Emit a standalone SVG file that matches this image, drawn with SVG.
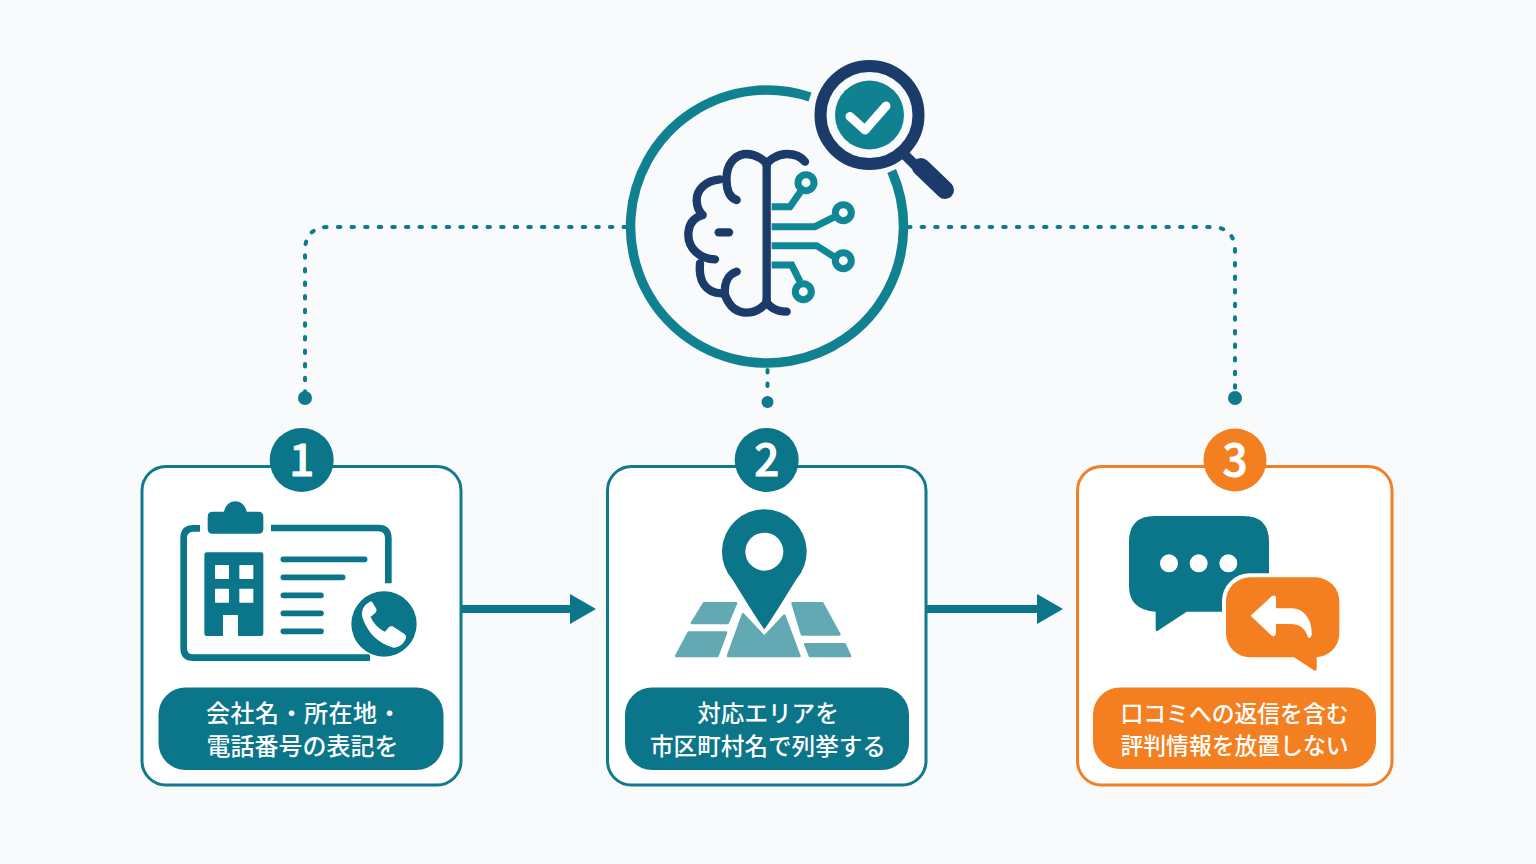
<svg xmlns="http://www.w3.org/2000/svg" width="1536" height="864" viewBox="0 0 1536 864">
<style>
.teal{fill:#0b7589}
.navyS{fill:none;stroke:#1b3b6b;stroke-width:25;stroke-linecap:round;stroke-linejoin:round}
.circ{fill:none;stroke:#0f8796;stroke-width:21;stroke-linejoin:miter}
.card{fill:#fff;stroke:#0f7a8c;stroke-width:3}
.cardO{fill:#fff;stroke:#f08028;stroke-width:3}
.bar{fill:none;stroke:#0b7589;stroke-width:17;stroke-linecap:round}
.map{fill:#63a9b3;stroke:#63a9b3;stroke-width:8;stroke-linejoin:round}
.dot{fill:none;stroke:#0f7a8c;stroke-width:4;stroke-linecap:round;stroke-dasharray:2.500 11.100}
.lbl{font-family:"Noto Sans CJK JP","Noto Sans",sans-serif;font-weight:500;fill:#fff;text-anchor:middle}
.num{font-family:"Noto Sans CJK JP","Noto Sans",sans-serif;font-weight:500;font-size:44px;fill:#fff;stroke:#fff;stroke-width:.9;text-anchor:middle}
.arrow{fill:none;stroke:#0b7589;stroke-width:8;marker-end:url(#head)}
</style>
<defs>
<marker id="head" markerUnits="userSpaceOnUse" markerWidth="28" markerHeight="34" refX="3" refY="17" orient="auto"><path d="M0 2L26 17L0 32Z" fill="#0b7589"/></marker>
</defs>
<rect width="1536" height="864" fill="#f8fafb"/>

<g id="connectors">
<path class="dot" d="M908 227H1211Q1235 227 1235 251V392"/>
<path class="dot" d="M626 227H329Q305 227 305 251V392"/>
<path class="dot" d="M767.500 370V396"/>
<circle cx="305" cy="398" r="7" fill="#0f7a8c"/>
<circle cx="1235" cy="398" r="7" fill="#0f7a8c"/>
<circle cx="767.500" cy="402" r="6" fill="#0f7a8c"/>
<path class="arrow" d="M462 609H573"/>
<path class="arrow" d="M927 609H1040"/>
</g>

<g id="hub">
<path d="M810 97A136.500 136.500 0 1 0 891.700 171" fill="none" stroke="#0f8190" stroke-width="9.500"/>
<g transform="translate(620 50) scale(.33333)">
<path class="navyS" d="M440 345V750"/>
<path class="navyS" d="M350 450C320 440 318 405 320 375C325 330 355 312 380 312C410 312 440 335 440 345C440 335 470 312 500 312C525 312 545 322 555 335"/>
<path class="navyS" d="M350 665C320 675 312 705 315 735C330 775 355 788 380 788C410 788 440 765 440 750C440 765 465 785 500 785"/>
<path class="navyS" d="M300 388C255 392 230 420 230 450C230 470 238 485 248 495C215 505 205 530 205 555C205 595 240 628 285 628"/>
<path class="navyS" d="M240 640C235 690 255 730 305 730"/>
<path class="navyS" d="M296 547H327"/>
<path class="circ" d="M455 470H510L545 420"/>
<circle class="circ" cx="558" cy="398" r="24"/>
<path class="circ" d="M455 530H585L645 500"/>
<circle class="circ" cx="670" cy="488" r="24"/>
<path class="circ" d="M455 587H590L645 622"/>
<circle class="circ" cx="670" cy="632" r="24"/>
<path class="circ" d="M455 645H515L540 695"/>
<circle class="circ" cx="550" cy="725" r="24"/>
</g>
</g>

<g id="magnifier">
<path d="M905 155L922 172" stroke="#1b3b6b" stroke-width="10" fill="none"/>
<path d="M921 167L945 190" stroke="#1b3b6b" stroke-width="18" stroke-linecap="round" fill="none"/>
<circle cx="869.500" cy="115" r="49" fill="#f8fafb" stroke="#1b3b6b" stroke-width="12"/>
<circle cx="869.500" cy="115" r="34.500" fill="#0f8190"/>
<path d="M850 116.500L865 130L886 106" fill="none" stroke="#fff" stroke-width="9" stroke-linecap="round" stroke-linejoin="round"/>
</g>

<g id="card1">
<rect class="card" x="142" y="466.500" width="319" height="318.500" rx="24"/>
<circle class="teal" cx="301.700" cy="460" r="32"/>
<text class="num" x="301.700" y="476">1</text>
<g transform="translate(130 425) scale(.33333)">
<path d="M210 310H190Q161 310 161 340V668Q161 698 190 698H720" fill="none" stroke="#0b7589" stroke-width="20"/>
<path d="M423 309H745Q775 309 775 340V475" fill="none" stroke="#0b7589" stroke-width="20"/>
<path class="teal" d="M233 275Q233 260 248 260H282C290 218 342 218 350 260H385Q400 260 400 275V312Q400 326 385 326H248Q233 326 233 312Z"/>
<rect class="teal" x="223" y="382" width="177" height="251" rx="7"/>
<g fill="#fff">
<rect x="255" y="420" width="42" height="42" rx="2"/><rect x="328" y="420" width="42" height="42" rx="2"/>
<rect x="255" y="491" width="42" height="42" rx="2"/><rect x="328" y="491" width="42" height="42" rx="2"/>
<rect x="279" y="570" width="45" height="63"/>
</g>
<path class="bar" d="M460 403H704M460 457H638M460 511H573M460 565H573M460 619H573"/>
<circle class="teal" cx="762" cy="597" r="98" stroke="#fff" stroke-width="8" paint-order="stroke"/>
<path fill="#fff" d="M720 530C700 540 690 560 700 585C715 625 745 655 790 668C810 668 822 655 828 640C830 632 825 628 820 625L790 605C784 602 778 604 775 608L765 620C745 610 730 595 722 575L735 565C740 560 741 554 738 550L728 533C726 529 723 529 720 530Z"/>
</g>
<rect class="teal" x="158.500" y="687.500" width="285" height="82.500" rx="27"/>
<text class="lbl" x="304" y="722" font-size="24" letter-spacing=".5">会社名・所在地・</text>
<text class="lbl" x="302.500" y="754.500" font-size="24">電話番号の表記を</text>
</g>

<g id="card2">
<rect class="card" x="607.500" y="466.500" width="318.500" height="318.500" rx="24"/>
<circle class="teal" cx="766.700" cy="460" r="32"/>
<text class="num" x="766.700" y="476">2</text>
<g transform="translate(600 425) scale(.33333)">
<path class="map" d="M312 535H408L383 594H276Z"/>
<path class="map" d="M266 623H378L352 693H229Z"/>
<path class="map" d="M429 568L493 636L553 572L598 693H384Z"/>
<path class="map" d="M578 535H667L718 628H606Z"/>
<path class="map" d="M616 658H734L750 693H630Z"/>
<path d="M493 613Q480 598 397 463A127 127 0 1 1 589 463Q506 598 493 613Z" fill="#0b7589"/>
<circle cx="493" cy="380" r="57" fill="#fff"/>
</g>
<rect class="teal" x="625" y="687.500" width="284" height="82.500" rx="27"/>
<text class="lbl" x="768" y="722" font-size="23.600">対応エリアを</text>
<text class="lbl" x="768" y="754.500" font-size="23.600">市区町村名で列挙する</text>
</g>

<g id="card3">
<rect class="cardO" x="1077.500" y="466.500" width="314.500" height="318.500" rx="24"/>
<circle cx="1235" cy="460" r="31.500" fill="#f47f20"/>
<text class="num" x="1235" y="476">3</text>
<g transform="translate(1060 425) scale(.33333)">
<path fill="#0b7589" d="M285 273H550Q627 273 627 350V483Q627 560 550 560H380L292 618Q287 620 287 612V560Q207 555 207 483V350Q207 273 285 273Z"/>
<circle cx="327" cy="415" r="27" fill="#fff"/><circle cx="416" cy="415" r="27" fill="#fff"/><circle cx="505" cy="415" r="27" fill="#fff"/>
<rect x="498" y="457" width="340" height="240" rx="72" fill="#f47f20" stroke="#fff" stroke-width="24" paint-order="stroke"/>
<path fill="#f47f20" d="M700 695L764 737Q770 738 770 730V690Z"/>
<path fill="#fff" d="M572 572L636 513Q648 508 648 520V550H695C735 550 758 590 755 630Q752 642 745 638C735 610 720 597 690 597H648V625Q646 638 635 632Z"/>
</g>
<rect x="1093" y="687.500" width="283" height="81.500" rx="27" fill="#f47f20"/>
<text class="lbl" x="1234.500" y="722" font-size="22.800">口コミへの返信を含む</text>
<text class="lbl" x="1234.500" y="754" font-size="22.800">評判情報を放置しない</text>
</g>
</svg>
